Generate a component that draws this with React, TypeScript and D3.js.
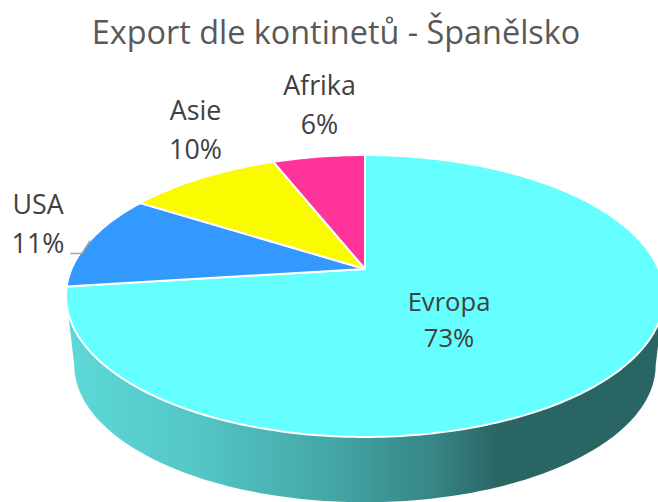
import React from "react";
import * as d3 from "d3";

const categories = ["Evropa", "USA", "Asie", "Afrika"];
const percentages = [73, 11, 10, 6];
const colors = ["#66FFFF", "#3399FF", "#FAFA00", "#FF3399"];
const title = "Export dle kontinetů - Španělsko";

const W = 658, H = 502;
const FONT = "'Open Sans', 'Noto Sans', sans-serif";
const DEG = Math.PI / 180;

// perspective projection of the pie disc
const makeProjection = (scale: number, apexY: number) => (angle: number) => {
  const k = -0.1915;
  const u = Math.sin(angle), v = -Math.cos(angle);
  const w = 1 + k * v;
  return [365 + (293.5 * scale * u) / w, apexY + (135.8 * scale * v) / w] as [number, number];
};
const top = makeProjection(1, 269);
const bottom = makeProjection(0.972, 339);

const pie = d3.pie<number>().value((d) => d).sort(null);
const arcs = pie(percentages);
const line = d3.line();

const samples = (a0: number, a1: number) => {
  const n = Math.max(2, Math.ceil(Math.abs(a1 - a0) * 60));
  return d3.range(n + 1).map((i) => a0 + ((a1 - a0) * i) / n);
};
const slicePath = (a0: number, a1: number) =>
  line([[365, 269] as [number, number], ...samples(a0, a1).map(top)]) + "Z";

const labelPos: Record<string, [number, number, number, number]> = {
  Evropa: [449, 311, 347, 25.6],
  USA: [38, 214, 253, 26.8],
  Asie: [195.5, 120, 159, 26.8],
  Afrika: [319.5, 95, 134, 26.8],
};

export default function App() {
  const rim = samples(101 * DEG, 259 * DEG);
  const sidePath = line([...rim.map(top), ...rim.slice().reverse().map(bottom)]) + "Z";
  const usa = arcs[1];
  const [lx, ly] = top((usa.startAngle + usa.endAngle) / 2);
  return (
    <svg width={W} height={H} viewBox={`0 0 ${W} ${H}`} style={{ position: "absolute", left: 0, top: 0, display: "block" }}>
      <defs>
        <linearGradient id="side" gradientUnits="userSpaceOnUse" x1={70} y1={0} x2={658} y2={0}>
          <stop offset="0" stopColor="#5DD8D8" />
          <stop offset="0.2" stopColor="#55C8C8" />
          <stop offset="0.45" stopColor="#44A5A5" />
          <stop offset="0.62" stopColor="#378585" />
          <stop offset="0.73" stopColor="#286563" />
          <stop offset="1" stopColor="#286563" />
        </linearGradient>
      </defs>
      <rect width={W} height={H} fill="#fff" />
      <text x={336} y={44} textAnchor="middle" fontFamily={FONT} fontSize={32.4} fill="#595959">{title}</text>
      <path d={sidePath} fill="url(#side)" />
      {arcs.map((a, i) => (
        <path key={categories[i]} d={slicePath(a.startAngle, a.endAngle)} fill={colors[i]} stroke="#fff" strokeWidth={2} strokeLinejoin="round" />
      ))}
      <polyline points={`70,253.5 82,253.5 ${lx},${ly}`} fill="none" stroke="#A6A6A6" strokeWidth={1.6} />
      {categories.map((c, i) => {
        const [x, y1, y2, size] = labelPos[c];
        return (
          <g key={c} fontFamily={FONT} fontSize={size} fill="#404040" textAnchor="middle">
            <text x={x} y={y1}>{c}</text>
            <text x={x} y={y2}>{percentages[i]}%</text>
          </g>
        );
      })}
    </svg>
  );
}
